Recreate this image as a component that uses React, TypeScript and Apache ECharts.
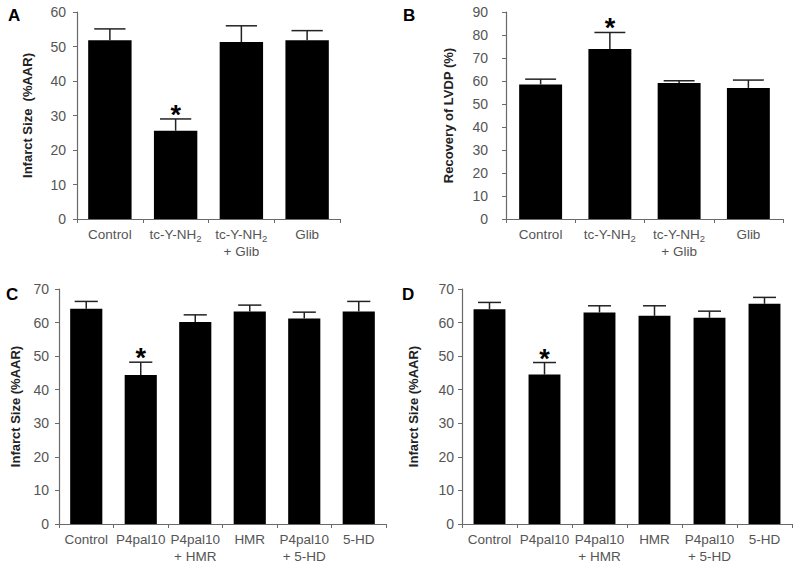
import React, { useEffect, useRef } from "react";
import * as echarts from "echarts";

const catsAB = ["Control", "tc-Y-NH2", "tc-Y-NH2\n+ Glib", "Glib"];
const catsCD = ["Control", "P4pal10", "P4pal10\n+ HMR", "HMR", "P4pal10\n+ 5-HD", "5-HD"];

const aMean = [51.8, 25.6, 51.3, 51.8];
const aErr = [3.3, 3.4, 4.7, 2.8];
const aSig = [0, 1, 0, 0];

const bMean = [58.5, 73.9, 59.1, 57.0];
const bErr = [2.3, 7.2, 1.0, 3.4];
const bSig = [0, 1, 0, 0];

const cMean = [64.1, 44.4, 60.2, 63.3, 61.2, 63.3];
const cErr = [2.2, 3.8, 2.1, 1.9, 1.9, 3.0];
const cSig = [0, 1, 0, 0, 0, 0];

const dMean = [64.0, 44.5, 63.0, 62.0, 61.4, 65.6];
const dErr = [2.0, 3.6, 2.0, 3.0, 2.0, 1.9];
const dSig = [0, 1, 0, 0, 0, 0];

const yTitles = ["Infarct Size  (%AAR)", "Recovery of LVDP (%)", "Infarct Size (%AAR)", "Infarct Size (%AAR)"];
const yMax = [60, 90, 70, 70];
const letters = ["A", "B", "C", "D"];

const FONT = "'Liberation Sans', Arial, Helvetica, sans-serif";

export default function App() {
  const ref = useRef<HTMLDivElement>(null);
  useEffect(() => {
    if (!ref.current) return;
    const chart = echarts.init(ref.current, undefined, { renderer: "svg" });

    const panels = [
      { cats: catsAB, mean: aMean, err: aErr, sig: aSig, grid: { left: 77, top: 12, width: 263, height: 207 }, bw: 0.66, lm: 11, ng: 43, letter: [8, 7] },
      { cats: catsAB, mean: bMean, err: bErr, sig: bSig, grid: { left: 506, top: 12, width: 277, height: 207 }, bw: 0.62, lm: 18, ng: 51, letter: [403, 7] },
      { cats: catsCD, mean: cMean, err: cErr, sig: cSig, grid: { left: 59, top: 289, width: 327, height: 235 }, bw: 0.59, lm: 10, ng: 37, letter: [6, 286] },
      { cats: catsCD, mean: dMean, err: dErr, sig: dSig, grid: { left: 462, top: 289, width: 330, height: 235 }, bw: 0.58, lm: 8, ng: 42, letter: [402, 286] },
    ];

    const axisColor = "#6a6a6a";
    const grids: any[] = [];
    const xAxes: any[] = [];
    const yAxes: any[] = [];
    const series: any[] = [];
    const graphics: any[] = [];

    panels.forEach((p, k) => {
      grids.push({ ...p.grid, containLabel: false });
      xAxes.push({
        type: "category",
        gridIndex: k,
        data: p.cats,
        axisLine: { lineStyle: { color: axisColor, width: 1.2 } },
        axisTick: { show: true, length: 4, lineStyle: { color: axisColor } },
        axisLabel: {
          interval: 0,
          margin: 7,
          color: "#555",
          fontSize: 13.5,
          fontFamily: FONT,
          lineHeight: 17,
          formatter: (v: string) => v.replace(/NH2/g, "NH{sub|2}"),
          rich: {
            sub: { fontSize: 9.5, fontFamily: FONT, color: "#555", padding: [7, 0, 0, 0] },
          },
        },
      });
      yAxes.push({
        type: "value",
        gridIndex: k,
        min: 0,
        max: yMax[k],
        interval: 10,
        name: yTitles[k],
        nameLocation: "middle",
        nameGap: p.ng,
        nameTextStyle: { fontFamily: FONT, fontWeight: "bold", fontSize: 13, color: "#222" },
        splitLine: { show: false },
        axisLine: { show: true, lineStyle: { color: axisColor, width: 1.2 } },
        axisTick: { show: true, length: 4, lineStyle: { color: axisColor } },
        axisLabel: { margin: p.lm, color: "#555", fontSize: 14, fontFamily: FONT },
      });
      series.push({
        type: "bar",
        xAxisIndex: k,
        yAxisIndex: k,
        data: p.mean,
        barWidth: Math.round(p.bw * 100) + "%",
        itemStyle: { color: "#000" },
        silent: true,
      });
      const frac = p.bw;
      series.push({
        type: "custom",
        xAxisIndex: k,
        yAxisIndex: k,
        clip: false,
        z: 5,
        encode: { x: 0, y: 1 },
        data: p.mean.map((m, i) => [i, m, p.err[i], p.sig[i]]),
        renderItem: (params: any, api: any) => {
          const i = api.value(0);
          const m = api.value(1);
          const e = api.value(2);
          const s = api.value(3);
          const base = api.coord([i, m]);
          const top = api.coord([i, m + e]);
          const bw = api.size([1, 0])[0] * frac;
          const half = bw * 0.36;
          const st = { stroke: "#222", lineWidth: 1.5 };
          const children: any[] = [
            { type: "line", shape: { x1: base[0], y1: base[1], x2: top[0], y2: top[1] }, style: st },
            { type: "line", shape: { x1: top[0] - half, y1: top[1], x2: top[0] + half, y2: top[1] }, style: st },
          ];
          if (s) {
            children.push({
              type: "text",
              x: top[0],
              y: top[1] - 4,
              style: {
                text: "*",
                fontSize: 27,
                fontWeight: "bold",
                fontFamily: FONT,
                fill: "#000",
                align: "center",
                verticalAlign: "middle",
              },
            });
          }
          return { type: "group", children };
        },
      });
      graphics.push({
        type: "text",
        left: p.letter[0],
        top: p.letter[1],
        style: { text: letters[k], fontSize: 17, fontWeight: "bold", fontFamily: FONT, fill: "#000" },
      });
    });

    chart.setOption({
      animation: false,
      backgroundColor: "#fff",
      grid: grids,
      xAxis: xAxes,
      yAxis: yAxes,
      series,
      graphic: graphics,
    });
    return () => chart.dispose();
  }, []);

  return <div ref={ref} style={{ position: "absolute", left: 0, top: 0, width: 800, height: 571 }} />;
}
